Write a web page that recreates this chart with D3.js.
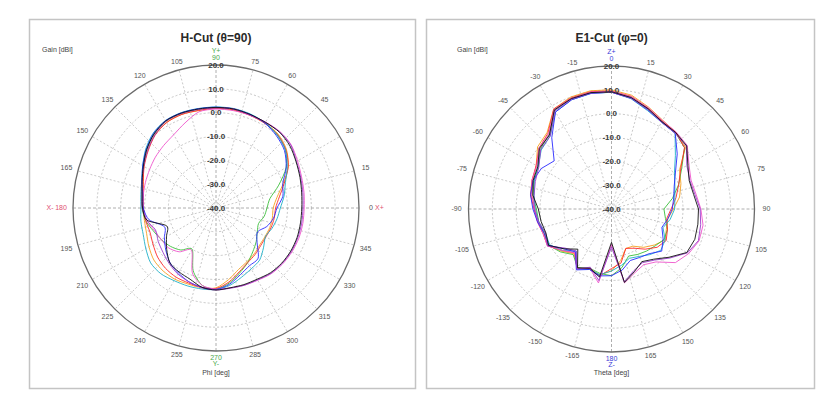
<!DOCTYPE html>
<html>
<head>
<meta charset="utf-8">
<script src="https://cdn.jsdelivr.net/npm/d3@7"></script>
<style>
body { margin: 0; background: #fff; }
text { font-family: "Liberation Sans", Arial, sans-serif; }
</style>
</head>
<body>
<div id="chart"></div>
<script>
// sample angles (deg) shared by every trace, 10 deg step
var angles = d3.range(0, 360, 10);
var gainTicks = [-40, -30, -20, -10, 0, 10, 20];
var hcutAngleTicks = ["0", "15", "30", "45", "60", "75", "90", "105", "120", "135", "150", "165",
    "180", "195", "210", "225", "240", "255", "270", "285", "300", "315", "330", "345"];
var e1AngleTicks = ["0", "15", "30", "45", "60", "75", "90", "105", "120", "135", "150", "165",
    "180", "-165", "-150", "-135", "-120", "-105", "-90", "-75", "-60", "-45", "-30", "-15"];

var seriesNames = ["orange", "green", "red", "cyan", "magenta", "blue", "violet", "black"];
var seriesColors = ["#f5a020", "#3cbf3c", "#ff2a2a", "#1fb0c8", "#ee55cc", "#2a2aff", "#9a3ccc", "#111111"];

// H-Cut (theta=90), gain in dBi vs phi
var hcutOrange = [-16.0, -14.0, -10.0, -5.0, -1.5, 0.5, 1.2, 1.5, 1.8, 1.8, 1.5, 1.8, 1.5, 0.0, -2.5, -5.0, -7.5, -9.0,
    -9.5, -9.5, -9.0, -7.5, -6.0, -5.5, -5.5, -6.0, -6.0, -6.5, -9.5, -12.5, -14.0, -15.0, -16.0, -16.2, -16.0, -16.0];
var hcutGreen = [-18.6, -17.0, -12.0, -6.0, -2.0, 0.0, 1.2, 1.6, 2.0, 2.0, 2.0, 2.2, 2.0, 0.5, -2.0, -4.8, -7.0, -8.5,
    -9.0, -10.0, -12.0, -13.5, -15.0, -17.0, -20.0, -12.0, -7.0, -6.0, -8.0, -11.0, -13.5, -16.0, -18.0, -20.0, -21.0, -19.5];
var hcutRed = [-15.0, -13.0, -9.5, -5.0, -1.8, 0.2, 1.0, 1.4, 1.8, 1.8, 1.6, 1.8, 1.4, -0.2, -2.8, -5.2, -7.5, -9.0,
    -9.5, -10.0, -10.5, -9.5, -8.0, -7.0, -6.5, -6.5, -6.2, -6.2, -8.5, -11.5, -13.5, -14.5, -15.5, -15.8, -15.5, -15.2];
var hcutCyan = [-13.0, -11.0, -9.0, -5.5, -2.0, 0.0, 1.3, 2.0, 2.4, 2.4, 2.4, 2.6, 2.4, 1.0, -1.5, -4.5, -6.8, -8.0,
    -8.5, -8.0, -7.5, -6.0, -4.2, -4.0, -4.8, -5.2, -5.5, -5.8, -7.0, -9.0, -10.5, -11.5, -14.0, -16.0, -15.0, -14.0];
var hcutMagenta = [-3.0, -2.5, -1.8, -0.5, 1.2, 1.8, 1.6, 1.5, 1.5, 1.5, 1.0, -2.0, -4.5, -5.8, -6.8, -7.8, -8.5, -9.0,
    -9.5, -10.5, -12.5, -13.5, -14.0, -16.0, -19.5, -11.0, -7.0, -6.0, -6.0, -5.5, -5.0, -4.0, -3.5, -3.2, -3.0, -3.0];
var hcutBlue = [-14.4, -11.5, -10.2, -6.0, -2.5, -0.5, 1.1, 1.8, 2.2, 2.3, 2.3, 2.5, 2.3, 0.8, -1.8, -4.5, -7.0, -8.8,
    -9.5, -11.5, -17.0, -15.0, -12.5, -10.0, -8.5, -7.0, -6.2, -5.8, -7.5, -10.2, -12.0, -12.5, -17.5, -19.9, -17.3, -15.5];
var hcutViolet = [-3.5, -3.0, -2.2, -1.0, 1.0, 1.6, 1.5, 1.5, 2.3, 2.0, 2.0, 2.2, 2.0, 0.0, -2.5, -5.0, -7.0, -8.5,
    -9.0, -10.5, -13.0, -12.0, -11.0, -9.5, -8.0, -7.0, -6.0, -5.6, -5.8, -5.5, -5.2, -4.2, -3.8, -3.5, -3.5, -3.5];
var hcutBlack = [-4.0, -3.5, -2.5, -1.2, 0.5, 1.5, 1.5, 1.8, 2.2, 2.2, 2.2, 2.4, 2.2, 0.5, -2.0, -4.8, -7.0, -8.5,
    -9.2, -10.6, -18.0, -16.0, -13.0, -9.9, -9.0, -8.2, -6.2, -5.6, -6.0, -5.8, -5.5, -4.5, -4.0, -3.8, -3.8, -4.0];

// E1-Cut (phi=0), gain in dBi vs theta (190..350 = -170..-10)
var e1Orange = [10.0, 8.5, 5.5, 3.0, 2.0, 0.5, -7.0, -9.0, -11.0, -14.0, -16.0, -15.5, -14.0, -16.5, -19.0, -22.0, -22.4, -18.0,
    -14.0, -12.0, -13.0, -11.5, -15.5, -12.5, -9.5, -10.0, -9.0, -8.0, -6.0, -5.0, -3.5, 0.5, 2.0, 8.5, 10.0, 10.4];
var e1Green = [9.2, 7.5, 4.8, 2.5, 1.8, 0.0, -6.0, -10.0, -14.0, -18.0, -17.0, -15.0, -14.5, -16.0, -17.0, -18.0, -19.0, -15.0,
    -12.0, -12.5, -13.5, -11.5, -15.0, -12.0, -9.5, -10.0, -9.0, -8.5, -6.5, -5.5, -4.5, -1.0, 0.8, 7.8, 9.2, 9.5];
var e1Red = [9.5, 8.0, 5.0, 2.6, 2.0, 0.0, -6.5, -10.0, -12.5, -15.0, -16.5, -15.0, -13.5, -15.0, -18.0, -21.0, -22.4, -17.0,
    -15.0, -11.5, -13.5, -11.0, -16.0, -13.0, -9.0, -9.5, -8.5, -7.5, -5.5, -4.5, -3.5, -0.3, 1.5, 8.4, 9.6, 10.0];
var e1Cyan = [9.0, 7.0, 4.0, 2.0, 1.5, -5.0, -9.5, -11.7, -13.0, -13.5, -15.0, -17.0, -14.0, -13.0, -15.0, -17.0, -18.0, -16.0,
    -14.0, -12.0, -13.0, -11.0, -17.0, -13.0, -10.0, -10.5, -9.0, -8.0, -7.0, -5.5, -4.5, -1.5, 0.0, 7.0, 8.8, 9.2];
var e1Magenta = [9.4, 7.8, 5.2, 2.8, 2.2, 1.5, -2.5, -4.5, -4.0, -2.5, -1.0, -0.9, -2.6, -5.0, -11.0, -13.0, -11.5, -8.5,
    -25.0, -8.5, -13.5, -11.0, -16.0, -13.0, -9.0, -9.5, -8.5, -7.8, -6.0, -4.5, -3.8, -0.3, 1.0, 8.2, 9.4, 9.8];
var e1Blue = [9.0, 7.2, 4.3, 2.1, 1.6, -4.0, -9.0, -12.0, -13.5, -14.5, -16.0, -17.5, -15.0, -12.5, -15.5, -16.5, -17.0, -14.0,
    -12.0, -11.5, -13.0, -10.5, -16.5, -14.0, -9.5, -10.0, -8.5, -7.0, -5.5, -5.0, -6.0, -8.6, -1.0, 7.0, 8.8, 9.3];
var e1Violet = [9.0, 7.2, 4.5, 2.0, 1.5, 1.0, -3.5, -5.0, -4.5, -2.8, -2.0, -1.2, -3.2, -8.0, -12.0, -14.0, -12.5, -9.0,
    -24.0, -9.5, -14.0, -11.0, -17.0, -14.5, -9.0, -10.5, -9.0, -7.5, -7.0, -6.0, -4.8, -1.2, 0.0, 7.5, 9.0, 9.4];
var e1Black = [9.2, 7.5, 4.8, 2.3, 1.9, 1.2, -3.0, -5.3, -5.0, -3.5, -3.2, -2.8, -3.5, -8.5, -12.5, -14.5, -12.0, -8.7,
    -26.0, -11.0, -13.5, -11.5, -18.0, -14.0, -9.5, -10.7, -10.0, -9.3, -6.5, -5.0, -4.3, -0.5, 0.5, 8.0, 9.3, 9.6];

var hcutSeries = [hcutOrange, hcutGreen, hcutRed, hcutCyan, hcutMagenta, hcutBlue, hcutViolet, hcutBlack];
var e1Series = [e1Orange, e1Green, e1Red, e1Cyan, e1Magenta, e1Blue, e1Violet, e1Black];

var width = 830,
    height = 398,
    radius = 143;

var svg = d3.select("#chart")
    .append("svg")
    .attr("width", width)
    .attr("height", height);

var rScale = d3.scaleLinear()
    .domain([-40, 20])
    .range([0, radius]);

// panels
svg.append("rect")
    .attr("x", 29.5).attr("y", 19.5).attr("width", 386).attr("height", 369)
    .attr("fill", "#fff").attr("stroke", "#c4c4c4").attr("stroke-width", 1.5);
svg.append("rect")
    .attr("x", 426.5).attr("y", 19.5).attr("width", 388).attr("height", 369)
    .attr("fill", "#fff").attr("stroke", "#c4c4c4").attr("stroke-width", 1.5);

function drawPolar(opt) {
    var g = svg.append("g")
        .attr("transform", "translate(" + opt.cx + "," + opt.cy + ")");

    // angle in radians, clockwise from 12 o'clock (d3 radial convention)
    var aScale = opt.aScale;

    function px(a, r) { return r * Math.sin(a); }
    function py(a, r) { return -r * Math.cos(a); }

    // rings
    g.selectAll(".ring")
        .data(gainTicks.slice(1, -1))
        .enter().append("circle")
        .attr("r", function (d) { return rScale(d); })
        .attr("fill", "none")
        .attr("stroke", "#b8b8b8")
        .attr("stroke-width", 0.8)
        .attr("stroke-dasharray", "2,2");

    // spokes every 15 deg
    g.selectAll(".spoke")
        .data(d3.range(0, 360, 15))
        .enter().append("line")
        .attr("x1", 0).attr("y1", 0)
        .attr("x2", function (d) { return px(aScale(d), radius); })
        .attr("y2", function (d) { return py(aScale(d), radius); })
        .attr("stroke", function (d) { return d % 90 === 0 ? "#999" : "#bbb"; })
        .attr("stroke-width", 0.8)
        .attr("stroke-dasharray", function (d) { return d % 90 === 0 ? "3,2" : "2,2"; });

    // outer circle
    g.append("circle")
        .attr("r", radius)
        .attr("fill", "none")
        .attr("stroke", "#6a6a6a")
        .attr("stroke-width", 1.3);

    // traces
    var line = d3.lineRadial()
        .angle(function (d, i) { return aScale(angles[i]); })
        .radius(function (d) { return rScale(Math.max(-40, d)); })
        .curve(opt.curve);

    g.selectAll(".trace")
        .data(opt.series)
        .enter().append("path")
        .attr("d", line)
        .attr("fill", "none")
        .attr("stroke", function (d, i) { return seriesColors[i]; })
        .attr("stroke-width", 1)
        .attr("stroke-linejoin", "round")
        .attr("opacity", 0.9);

    // gain labels on the vertical axis
    g.selectAll(".glabel")
        .data(gainTicks)
        .enter().append("text")
        .attr("x", 0)
        .attr("y", function (d) { return -rScale(d); })
        .attr("dy", "0.35em")
        .attr("text-anchor", "middle")
        .attr("font-size", 8)
        .attr("font-weight", "bold")
        .attr("fill", "#3a3a3a")
        .text(function (d) { return d.toFixed(1); });

    // angle labels
    g.selectAll(".alabel")
        .data(opt.tickLabels)
        .enter().append("text")
        .attr("x", function (d, i) {
            var a = aScale(i * 15);
            return px(a, radius + 7 + 5 * Math.abs(Math.sin(a)));
        })
        .attr("y", function (d, i) {
            var a = aScale(i * 15);
            return py(a, radius + 7 + 5 * Math.abs(Math.sin(a)));
        })
        .attr("dy", "0.35em")
        .attr("text-anchor", "middle")
        .attr("font-size", 7)
        .attr("fill", function (d, i) { return opt.tickColor(i * 15); })
        .text(function (d) { return d; });

    // axis markers
    g.selectAll(".marker")
        .data(opt.markers)
        .enter().append("text")
        .attr("x", function (d) { return d.x; })
        .attr("y", function (d) { return d.y; })
        .attr("dy", "0.35em")
        .attr("text-anchor", function (d) { return d.anchor; })
        .attr("font-size", 7)
        .attr("fill", function (d) { return d.color; })
        .text(function (d) { return d.text; });

    // title and axis names
    g.append("text")
        .attr("x", 0).attr("y", 42 - opt.cy)
        .attr("text-anchor", "middle")
        .attr("font-size", 12)
        .attr("font-weight", "bold")
        .attr("fill", "#2a2a2a")
        .text(opt.title);

    g.append("text")
        .attr("x", 0).attr("y", 373 - opt.cy)
        .attr("dy", "0.35em")
        .attr("text-anchor", "middle")
        .attr("font-size", 7)
        .attr("fill", "#444")
        .text(opt.axisName);

    svg.append("text")
        .attr("x", opt.gainX).attr("y", 50)
        .attr("dy", "0.35em")
        .attr("font-size", 7)
        .attr("fill", "#444")
        .text("Gain [dBi]");
}

drawPolar({
    cx: 216, cy: 208,
    aScale: d3.scaleLinear().domain([0, 360]).range([Math.PI / 2, Math.PI / 2 - 2 * Math.PI]),
    curve: d3.curveCardinalClosed.tension(0.2),
    series: hcutSeries,
    tickLabels: hcutAngleTicks,
    tickColor: function (deg) {
        if (deg === 90 || deg === 270) return "#4aa84a";
        if (deg === 180) return "#e05070";
        return "#555";
    },
    markers: [
        { x: 0, y: -157, text: "Y+", color: "#4aa84a", anchor: "middle" },
        { x: 0, y: 156, text: "Y-", color: "#4aa84a", anchor: "middle" },
        { x: 159, y: 0, text: "X+", color: "#e05070", anchor: "start" },
        { x: -162.5, y: 0, text: "X-", color: "#e05070", anchor: "end" }
    ],
    title: "H-Cut (\u03b8=90)",
    axisName: "Phi [deg]",
    gainX: 42
});

drawPolar({
    cx: 611.5, cy: 209,
    aScale: d3.scaleLinear().domain([0, 360]).range([0, 2 * Math.PI]),
    curve: d3.curveLinearClosed,
    series: e1Series,
    tickLabels: e1AngleTicks,
    tickColor: function (deg) {
        if (deg === 0 || deg === 180) return "#3a3ad8";
        return "#555";
    },
    markers: [
        { x: 0, y: -157, text: "Z+", color: "#3a3ad8", anchor: "middle" },
        { x: 0, y: 156, text: "Z-", color: "#3a3ad8", anchor: "middle" }
    ],
    title: "E1-Cut (\u03c6=0)",
    axisName: "Theta [deg]",
    gainX: 457
});
</script>
</body>
</html>
